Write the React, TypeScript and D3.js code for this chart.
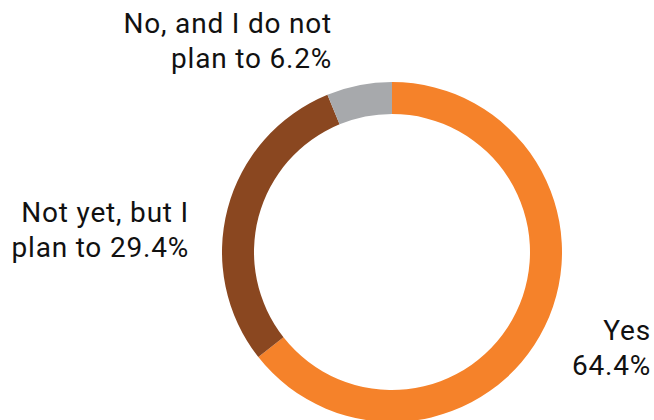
import React from "react";
import * as d3 from "d3";

const categories = ["Yes", "Not yet, but I plan to", "No, and I do not plan to"];
const values = [64.4, 29.4, 6.2];
const colors = ["#F5822A", "#8A4720", "#A7A9AC"];
const labelLines = [
  ["Yes", "64.4%"],
  ["Not yet, but I", "plan to 29.4%"],
  ["No, and I do not", "plan to 6.2%"],
];

const W = 654;
const H = 420;
const cx = 392;
const cy = 252;
const outerR = 170;
const innerR = 138;

// Label anchors (right-aligned) and first baseline for each slice
const labelPos = [
  { x: 651, y: 340 },
  { x: 189, y: 222 },
  { x: 332, y: 33 },
];
const lineH = 35;

export default function App() {
  const pie = d3
    .pie<number>()
    .sort(null)
    .value((d) => d);
  const arcs = pie(values);
  const arc = d3.arc<d3.PieArcDatum<number>>().innerRadius(innerR).outerRadius(outerR);

  return (
    <div style={{ position: "fixed", left: 0, top: 0 }}>
      <svg width={W} height={H} style={{ display: "block" }}>
        <rect width={W} height={H} fill="#fff" />
        <g transform={`translate(${cx},${cy})`}>
          {arcs.map((a, i) => (
            <path key={categories[i]} d={arc(a) || ""} fill={colors[i]} />
          ))}
        </g>
        {labelLines.map((lines, i) => (
          <text
            key={categories[i]}
            x={labelPos[i].x}
            y={labelPos[i].y}
            textAnchor="end"
            fontFamily="Roboto, sans-serif"
            fontWeight={400}
            fontSize={28}
            letterSpacing={0.8}
            fill="#111"
          >
            {lines.map((t, j) => (
              <tspan key={j} x={labelPos[i].x} y={labelPos[i].y + j * lineH}>
                {t}
              </tspan>
            ))}
          </text>
        ))}
      </svg>
    </div>
  );
}
